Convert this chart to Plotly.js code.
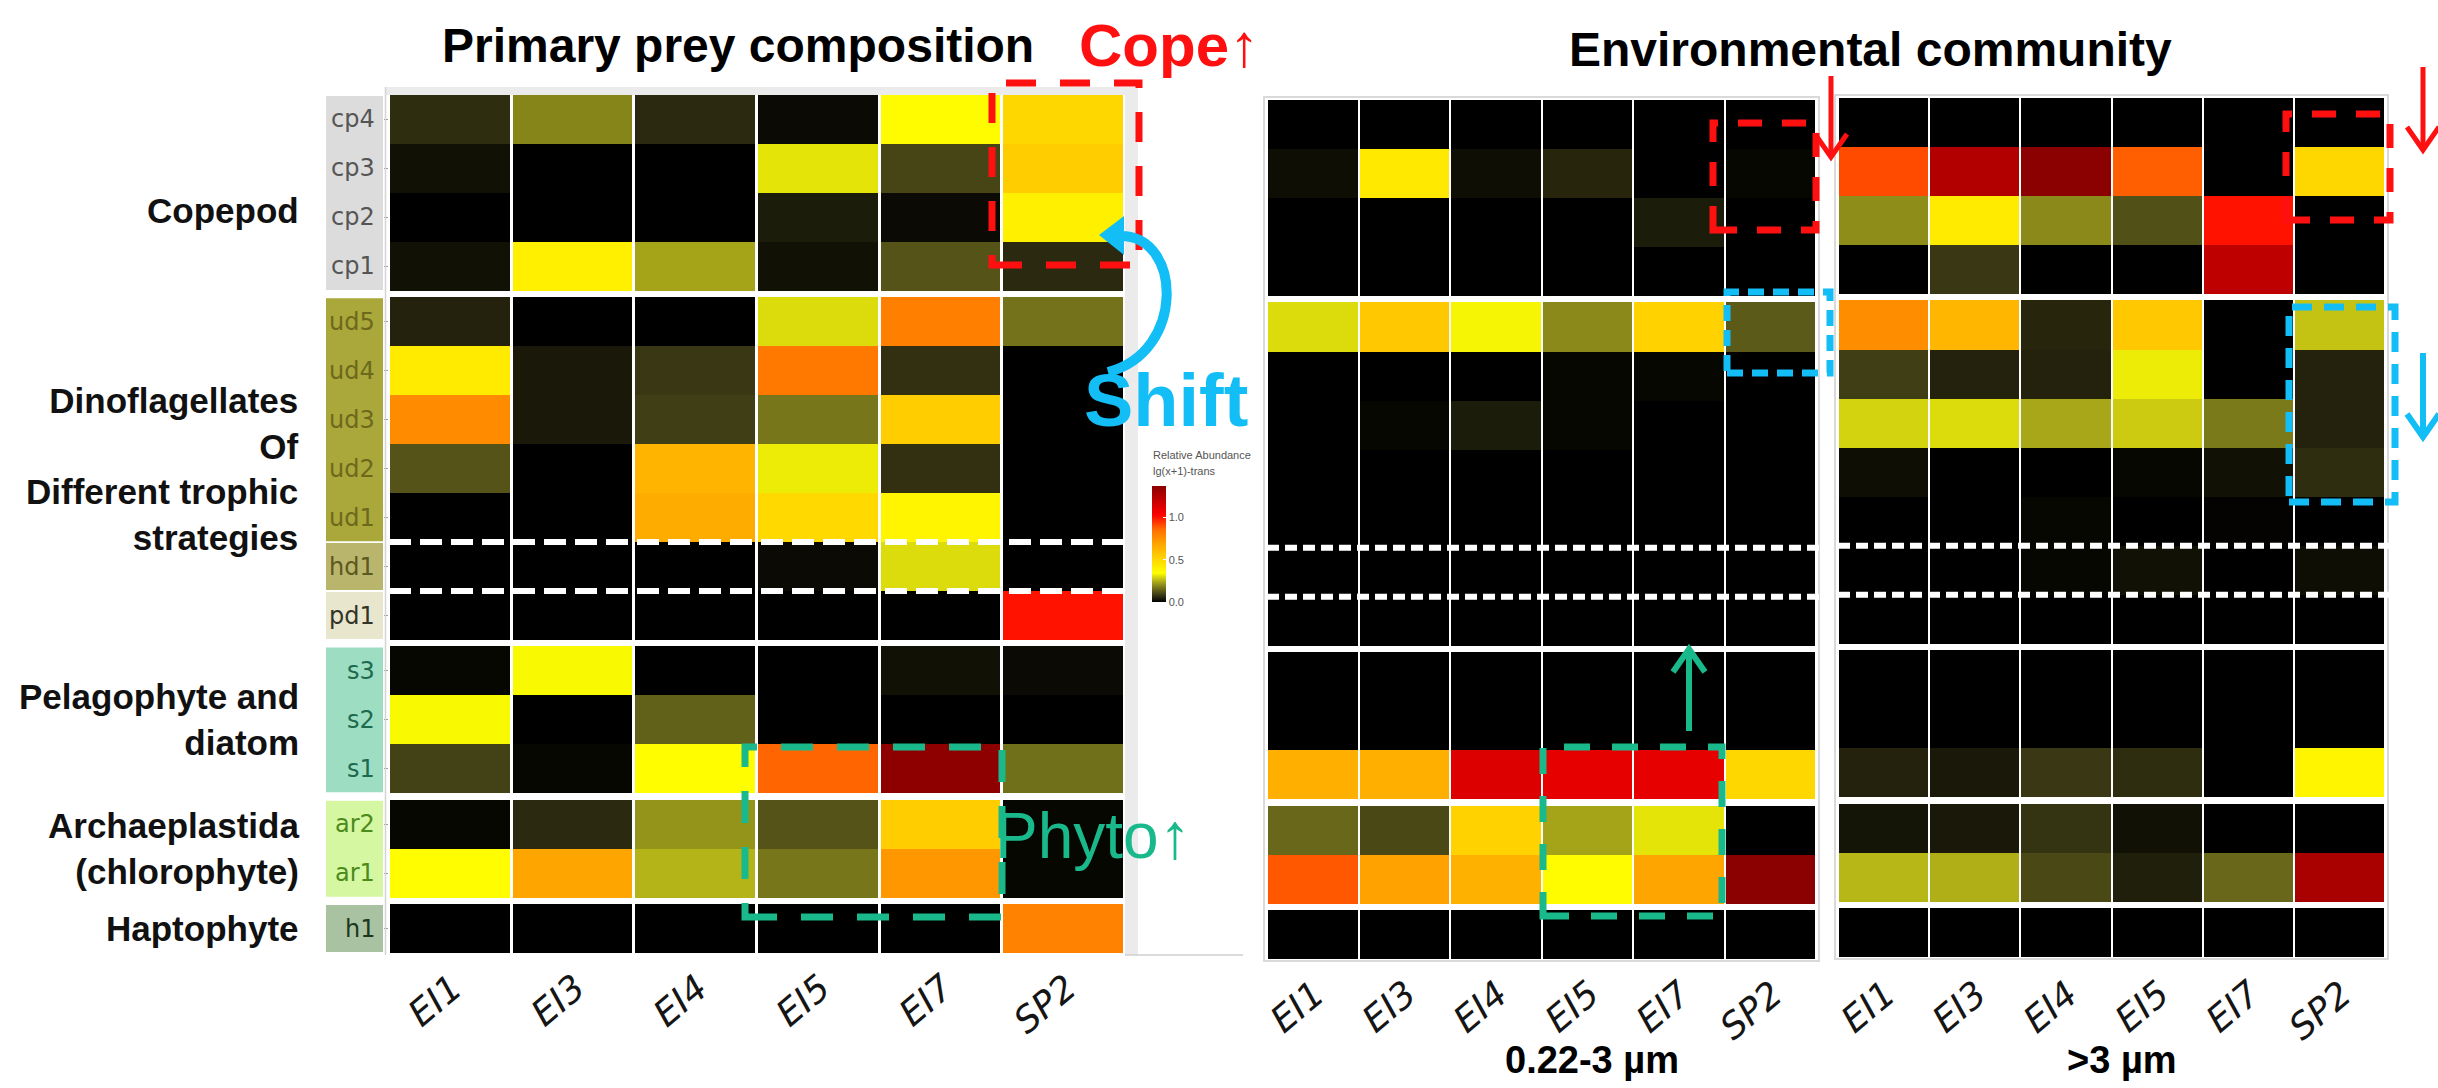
<!DOCTYPE html>
<html>
<head>
<meta charset="utf-8">
<script src="https://cdn.plot.ly/plotly-3.0.1.min.js"></script>
<style>
  html, body { margin: 0; padding: 0; background: #ffffff; }
  #chart { width: 2438px; height: 1088px; }
</style>
</head>
<body>
<div id="chart"></div>
<script>
// ---- data -------------------------------------------------------------
const samples = ['EI1', 'EI3', 'EI4', 'EI5', 'EI7', 'SP2'];

const copepodRows = ['cp4', 'cp3', 'cp2', 'cp1'];
const dinoRows    = ['ud5', 'ud4', 'ud3', 'ud2', 'ud1', 'hd1', 'pd1'];
const pelagoRows  = ['s3', 's2', 's1'];
const archaeRows  = ['ar2', 'ar1'];
const haptoRows   = ['h1'];

const groupLabels = [
  'Copepod',
  'Dinoflagellates<br>Of<br>Different trophic<br>strategies',
  'Pelagophyte and<br>diatom',
  'Archaeplastida<br>(chlorophyte)',
  'Haptophyte'
];

// relative abundance, lg(x+1)-trans; rows in taxon order, columns follow `samples`
const preyComposition = [
  [0.065, 0.19,  0.06, 0.015, 0.355, 0.50],  // cp4
  [0.025, 0,     0,    0.31,  0.10,  0.537], // cp3
  [0,     0,     0,    0.04,  0.015, 0.40],  // cp2
  [0.025, 0.40,  0.23, 0.025, 0.12,  0.06],  // cp1
  [0.05,  0,     0,    0.30,  0.80,  0.165], // ud5
  [0.42,  0.035, 0.08, 0.825, 0.07,  0],     // ud4
  [0.763, 0.035, 0.09, 0.17,  0.537, 0],     // ud3
  [0.12,  0,     0.63, 0.32,  0.07,  0],     // ud2
  [0,     0,     0.66, 0.49,  0.38,  0],     // ud1
  [0,     0,     0,    0.015, 0.30,  0],     // hd1
  [0,     0,     0,    0,     0,     1.0],   // pd1
  [0.01,  0.335, 0,    0,     0.025, 0.015], // s3
  [0.335, 0,     0.14, 0,     0,     0],     // s2
  [0.095, 0.01,  0.35, 0.87,  1.36,  0.16],  // s1
  [0.01,  0.06,  0.21, 0.12,  0.537, 0.01],  // ar2
  [0.35,  0.685, 0.25, 0.17,  0.73,  0.01],  // ar1
  [0,     0,     0,    0,     0,     0.79]   // h1
];

const envSmall = [
  [0,    0,     0,    0,     0,     0],      // cp4
  [0.02, 0.43,  0.02, 0.055, 0,     0.01],   // cp3
  [0,    0,     0,    0,     0.04,  0],      // cp2
  [0,    0,     0,    0,     0,     0],      // cp1
  [0.30, 0.555, 0.33, 0.195, 0.517, 0.13],   // ud5
  [0,    0,     0,    0.01,  0.01,  0],      // ud4
  [0,    0.01,  0.04, 0.01,  0,     0],      // ud3
  [0,    0,     0,    0,     0,     0],      // ud2
  [0,    0,     0,    0,     0,     0],      // ud1
  [0,    0,     0,    0,     0,     0],      // hd1
  [0,    0,     0,    0,     0,     0],      // pd1
  [0,    0,     0,    0,     0,     0],      // s3
  [0,    0,     0,    0,     0,     0],      // s2
  [0.647,0.647, 1.13, 1.10,  1.10,  0.50],   // s1
  [0.15, 0.105, 0.517,0.23,  0.31,  0],      // ar2
  [0.89, 0.695, 0.64, 0.355, 0.685, 1.37],   // ar1
  [0,    0,     0,    0,     0,     0]       // h1
];

const envLarge = [
  [0,     0,     0,     0,     0,     0],     // cp4
  [0.91,  1.255, 1.37,  0.88,  0,     0.50],  // cp3
  [0.20,  0.42,  0.195, 0.115, 1.0,   0],     // cp2
  [0,     0.08,  0,     0,     1.22,  0],     // cp1
  [0.76,  0.62,  0.055, 0.555, 0,     0.27],  // ud5
  [0.09,  0.05,  0.05,  0.32,  0,     0.05],  // ud4
  [0.29,  0.30,  0.235, 0.28,  0.175, 0.05],  // ud3
  [0.02,  0,     0,     0.01,  0.025, 0.065], // ud2
  [0,     0,     0.01,  0,     0.005, 0],     // ud1
  [0,     0,     0.01,  0.025, 0,     0.02],  // hd1
  [0,     0,     0,     0,     0,     0],     // pd1
  [0,     0,     0,     0,     0,     0],     // s3
  [0,     0,     0,     0,     0,     0],     // s2
  [0.05,  0.035, 0.08,  0.065, 0,     0.38],  // s1
  [0.03,  0.035, 0.075, 0.025, 0,     0],     // ar2
  [0.255, 0.245, 0.105, 0.045, 0.15,  1.28],  // ar1
  [0,     0,     0,     0,     0,     0]      // h1
];

// ---- layout helpers ---------------------------------------------------
const W = 2438, H = 1088;
const fx = px => px / W;
const fy = py => 1 - py / H;
const P = (x, y) => fx(x) + ',' + fy(y);

const groups = [copepodRows, dinoRows, pelagoRows, archaeRows, haptoRows];
const GAP = 0.13;   // white separator between taxon groups, in row units

// brick edges (top -> bottom) and row centres, with an empty row between groups
const edges = [0];
const rowCenters = {};
const groupSpans = [];
const rowKinds = [];
groups.forEach((g, gi) => {
  const start = edges[edges.length - 1];
  g.forEach(r => {
    const top = edges[edges.length - 1];
    rowCenters[r] = top + 0.5;
    edges.push(top + 1);
    rowKinds.push('row');
  });
  groupSpans.push([start, edges[edges.length - 1]]);
  if (gi < groups.length - 1) {
    edges.push(edges[edges.length - 1] + GAP);
    rowKinds.push('gap');
  }
});
const TOTAL = edges[edges.length - 1];
const allRows = groups.flat();

function bricks(matrix) {
  const z = [];
  let k = 0;
  rowKinds.forEach(kind => {
    if (kind === 'row') z.push(matrix[k++]);
    else z.push(samples.map(() => null));
  });
  return z;
}

const panels = [
  { m: preyComposition, x: [389, 1125],  y: [95, 953],  xgap: 3, dash: '22px,9px', labelTop: 964 },
  { m: envSmall,        x: [1267, 1816], y: [100, 959], xgap: 2, dash: '12px,6px', labelTop: 970 },
  { m: envLarge,        x: [1838, 2385], y: [98, 957],  xgap: 2, dash: '12px,6px', labelTop: 970 }
];

// ggplot-like black -> yellow -> orange -> red -> darkred (Lab-blended stops)
const colorscale = [
  [0, '#000000'], [0.0625, 'rgb(61,59,21)'], [0.125, 'rgb(120,119,27)'],
  [0.1875, 'rgb(185,184,24)'], [0.25, '#ffff00'], [0.375, 'rgb(255,211,0)'],
  [0.5, '#ffa500'], [0.625, 'rgb(255,110,0)'], [0.75, '#ff0000'], [1, '#8b0000']
];

const traces = [];
const layout = {
  width: W, height: H,
  margin: { l: 0, r: 0, t: 0, b: 0 },
  paper_bgcolor: '#ffffff', plot_bgcolor: 'rgba(0,0,0,0)',
  showlegend: false,
  coloraxis: {
    cmin: 0, cmax: 1.37, colorscale: colorscale,
    colorbar: {
      x: fx(1152), xanchor: 'left', xpad: 0,
      y: fy(486), yanchor: 'top', ypad: 0,
      len: 116, lenmode: 'pixels', thickness: 14, thicknessmode: 'pixels',
      outlinewidth: 0,
      tickvals: [0, 0.5, 1], ticktext: ['0.0', '0.5', '1.0'],
      ticks: 'inside', ticklen: 3, tickcolor: '#ffffff',
      tickfont: { family: 'Liberation Sans', size: 11, color: '#555555' }
    }
  },
  shapes: [], annotations: []
};
const S = layout.shapes;
const A = layout.annotations;

panels.forEach((p, i) => {
  const sx = i === 0 ? '' : String(i + 1);
  traces.push({
    type: 'heatmap', x: samples, y: edges, z: bricks(p.m),
    coloraxis: 'coloraxis', xgap: p.xgap, ygap: 0,
    xaxis: 'x' + sx, yaxis: 'y' + sx, hoverongaps: false
  });
  layout['xaxis' + sx] = {
    domain: [fx(p.x[0]), fx(p.x[1])], anchor: 'y' + sx,
    type: 'category', range: [-0.5, samples.length - 0.5],
    showgrid: false, zeroline: false, showline: false, ticks: '',
    showticklabels: false
  };
  layout['yaxis' + sx] = {
    domain: [fy(p.y[1]), fy(p.y[0])], anchor: 'x' + sx,
    range: [TOTAL, 0], showgrid: false, zeroline: false, showline: false,
    showticklabels: false,
    ticks: i === 0 ? 'outside' : '', ticklen: 4, tickwidth: 1, tickcolor: '#9a9a9a',
    tickvals: i === 0 ? allRows.map(r => rowCenters[r]) : []
  };

  // slanted sample names under each column
  samples.forEach(s => {
    A.push({
      text: s, xref: 'x' + sx, yref: 'paper', x: s, y: fy(p.labelTop),
      xanchor: 'right', yanchor: 'top', xshift: 22, textangle: -40, showarrow: false,
      font: { family: 'DejaVu Sans', size: 36, style: 'italic', color: '#151515' }
    });
  });

  // dashed separators around hd1
  [rowCenters['ud1'] + 0.5, rowCenters['hd1'] + 0.5].forEach(yv => {
    S.push({
      type: 'line', xref: 'x' + sx + ' domain', yref: 'y' + sx,
      x0: 0, x1: 1.01, y0: yv, y1: yv,
      line: { color: '#ffffff', width: 6, dash: p.dash }, layer: 'above'
    });
  });
});

// panel frames (light grey ggplot panel edges)
S.push({ type: 'rect', xref: 'paper', yref: 'paper', x0: fx(1125), x1: fx(1138), y0: fy(955), y1: fy(87),
         fillcolor: '#ebebeb', line: { width: 0 }, layer: 'below' });
S.push({ type: 'rect', xref: 'paper', yref: 'paper', x0: fx(385), x1: fx(1138), y0: fy(95), y1: fy(87),
         fillcolor: '#ebebeb', line: { width: 0 }, layer: 'below' });
S.push({ type: 'line', xref: 'paper', yref: 'paper', x0: fx(385.5), x1: fx(385.5), y0: fy(955), y1: fy(87),
         line: { color: '#d4d4d4', width: 1.5 } });
S.push({ type: 'line', xref: 'paper', yref: 'paper', x0: fx(1125), x1: fx(1243), y0: fy(955), y1: fy(955),
         line: { color: '#cfcfcf', width: 1.5 } });
S.push({ type: 'rect', xref: 'paper', yref: 'paper', x0: fx(1264), x1: fx(1819), y0: fy(961), y1: fy(97),
         line: { color: '#d9d9d9', width: 2 }, layer: 'below' });
S.push({ type: 'rect', xref: 'paper', yref: 'paper', x0: fx(1835), x1: fx(2388), y0: fy(959), y1: fy(95),
         line: { color: '#d9d9d9', width: 2 }, layer: 'below' });

// coloured strips behind the row names
const stripStyle = {
  cp: { fill: '#dcdcdc', text: '#555555' },
  ud: { fill: '#aaa73b', text: '#6c691c' },
  hd: { fill: '#bab56c', text: '#5c5820' },
  pd: { fill: '#e8e6cc', text: '#333328' },
  s:  { fill: '#9ddec2', text: '#1d6a4e' },
  ar: { fill: '#d5f7a2', text: '#4c8a1a' },
  h:  { fill: '#a9c2a2', text: '#1d371d' }
};
const prefix = r => r.replace(/[0-9]+$/, '');
let runStart = null, runKind = null, prevRow = null;
const flush = (endRow) => {
  const st = stripStyle[runKind];
  S.push({ type: 'rect', xref: 'paper', yref: 'y', x0: fx(326), x1: fx(383),
           y0: runStart + 0.02, y1: rowCenters[endRow] + 0.5 - 0.02,
           fillcolor: st.fill, line: { width: 0 }, layer: 'below' });
};
allRows.forEach(r => {
  const k = prefix(r);
  const contiguous = prevRow !== null && Math.abs(rowCenters[r] - rowCenters[prevRow] - 1) < 1e-9;
  if (runKind === null) { runKind = k; runStart = rowCenters[r] - 0.5; }
  else if (k !== runKind || !contiguous) { flush(prevRow); runKind = k; runStart = rowCenters[r] - 0.5; }
  prevRow = r;
});
flush(prevRow);

// emphasis boxes
const box = (x0, y0, x1, y1, color, width, dash) => S.push({
  type: 'rect', xref: 'paper', yref: 'paper', x0: fx(x0), x1: fx(x1), y0: fy(y1), y1: fy(y0),
  line: { color: color, width: width, dash: dash }, fillcolor: 'rgba(0,0,0,0)', layer: 'above'
});
const RED = '#ff1010', BLUE = '#12bef5', TEAL = '#1ab98c';
box(992, 83, 1139, 265, RED, 7, '30px,24px');
box(1713, 123, 1816, 230, RED, 7, '24px,20px');
box(2286, 114, 2390, 220, RED, 7, '24px,20px');
box(1727, 292, 1830, 373, BLUE, 7, '16px,9px');
box(2289, 307, 2395, 502, BLUE, 7, '20px,12px');
box(745, 747, 1002, 917, TEAL, 7, '32px,24px');
box(1543, 747, 1722, 916, TEAL, 7, '26px,22px');

// straight arrows with open heads
const arrow = (x, yFrom, yTo, color, width) => {
  const dir = yTo > yFrom ? 1 : -1;
  S.push({ type: 'line', xref: 'paper', yref: 'paper', x0: fx(x), x1: fx(x), y0: fy(yFrom), y1: fy(yTo - dir * 2),
           line: { color: color, width: width }, layer: 'above' });
  S.push({ type: 'path', xref: 'paper', yref: 'paper',
           path: 'M' + P(x - 16, yTo - dir * 23) + ' L' + P(x, yTo) + ' L' + P(x + 16, yTo - dir * 23),
           line: { color: color, width: width }, fillcolor: 'rgba(0,0,0,0)', layer: 'above' });
};
arrow(1831, 76, 157, RED, 5);
arrow(2423, 67, 150, RED, 5);
arrow(2423, 353, 437, BLUE, 6);
arrow(1689, 731, 649, TEAL, 6);

// curved "shift" arrow
S.push({ type: 'path', xref: 'paper', yref: 'paper',
         path: 'M' + P(1108, 372) + ' C' + P(1186, 352) + ' ' + P(1182, 236) + ' ' + P(1121, 236),
         line: { color: BLUE, width: 10 }, fillcolor: 'rgba(0,0,0,0)', layer: 'above' });
S.push({ type: 'path', xref: 'paper', yref: 'paper',
         path: 'M' + P(1099, 235) + ' L' + P(1124, 216) + ' L' + P(1124, 255) + ' Z',
         line: { width: 0 }, fillcolor: BLUE, layer: 'above' });

// ---- text -------------------------------------------------------------
const txt = (text, x, y, opts) => A.push(Object.assign({
  text: text, xref: 'paper', yref: 'paper', x: fx(x), y: fy(y),
  showarrow: false, xanchor: 'center', yanchor: 'middle'
}, opts));

txt('Primary prey composition', 738, 46,
    { font: { family: 'Liberation Sans', size: 48, weight: 'bold', color: '#000' } });
txt('Environmental community', 1870, 50,
    { font: { family: 'Liberation Sans', size: 48, weight: 'bold', color: '#000' } });
txt('0.22-3 µm', 1592, 1060,
    { font: { family: 'Liberation Sans', size: 38, weight: 'bold', color: '#000' } });
txt('>3 µm', 2122, 1060,
    { font: { family: 'Liberation Sans', size: 38, weight: 'bold', color: '#000' } });

txt('Cope↑', 1077, 46, { xanchor: 'left',
    font: { family: 'Liberation Sans', size: 60, weight: 'bold', color: RED } });
txt('Shift', 1082, 400, { xanchor: 'left',
    font: { family: 'Liberation Sans', size: 74, weight: 'bold', color: BLUE } });
txt('Phyto↑', 993, 836, { xanchor: 'left',
    font: { family: 'Liberation Sans', size: 64, color: TEAL } });

txt('Relative Abundance', 1151, 455, { xanchor: 'left',
    font: { family: 'Liberation Sans', size: 11, color: '#555555' } });
txt('lg(x+1)-trans', 1151, 471, { xanchor: 'left',
    font: { family: 'Liberation Sans', size: 11, color: '#555555' } });

// group names, right-aligned beside the strips
groupLabels.forEach((label, gi) => {
  const span = groupSpans[gi];
  A.push({
    text: label, xref: 'paper', yref: 'y', x: fx(301), y: (span[0] + span[1]) / 2,
    xanchor: 'right', yanchor: 'middle', align: 'right', showarrow: false,
    yshift: gi === 0 ? -18 : 0,
    font: { family: 'Liberation Sans', size: 35, weight: 'bold', color: '#111111' }
  });
});

// row names inside the strips
allRows.forEach(r => {
  A.push({
    text: r, xref: 'paper', yref: 'y', x: fx(377), y: rowCenters[r],
    xanchor: 'right', yanchor: 'middle', showarrow: false,
    font: { family: 'DejaVu Sans', size: 24, color: stripStyle[prefix(r)].text }
  });
});

Plotly.newPlot('chart', traces, layout, { staticPlot: true, displayModeBar: false });
</script>
</body>
</html>
